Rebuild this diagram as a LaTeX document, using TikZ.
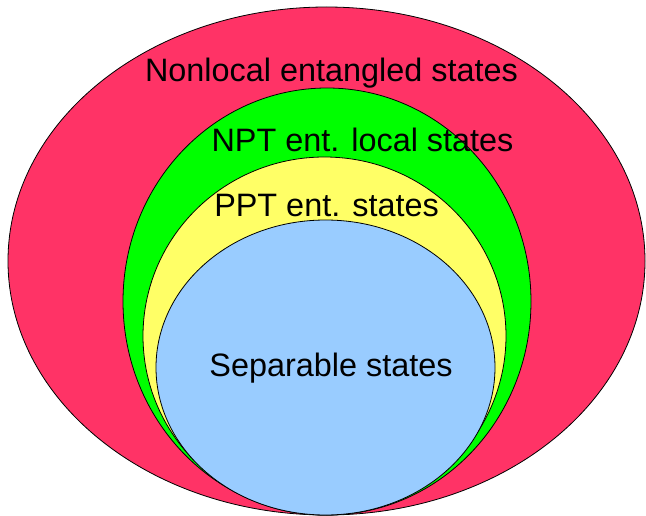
\documentclass[tikz,border=0pt]{standalone}
\usepackage{fontspec}
\setmainfont{Liberation Sans}
\definecolor{cred}{HTML}{FF3366}
\definecolor{cgreen}{HTML}{00FF00}
\definecolor{cyellow}{HTML}{FFFF66}
\definecolor{cblue}{HTML}{99CCFF}
\begin{document}
\begin{tikzpicture}[x=1pt,y=-1pt,
  region/.style={draw=black,line width=0.8pt},
  lbl/.style={anchor=base,inner sep=0pt,font=\fontsize{32.4}{36}\selectfont}]
\useasboundingbox (0,0) rectangle (646,516);
\fill[white] (0,0) rectangle (646,516);
\draw[region,fill=cred] (326.5,261) ellipse [x radius=318.5, y radius=254];
\draw[region,fill=cgreen] (327,301.5) ellipse [x radius=204, y radius=213.5];
\draw[region,fill=cyellow] (324.5,336) ellipse [x radius=181.5, y radius=179];
\draw[region,fill=cblue] (325.5,367.5) ellipse [x radius=169.5, y radius=147.5];
\node[lbl] (nl) at (331.5,82) {Nonlocal entangled states};
\node[lbl] (npt) at (362.5,151.5) {NPT ent. local states};
\node[lbl] (ppt) at (326.5,217) {PPT ent. states};
\node[lbl] (sep) at (331,376.5) {Separable states};
\end{tikzpicture}
\end{document}
